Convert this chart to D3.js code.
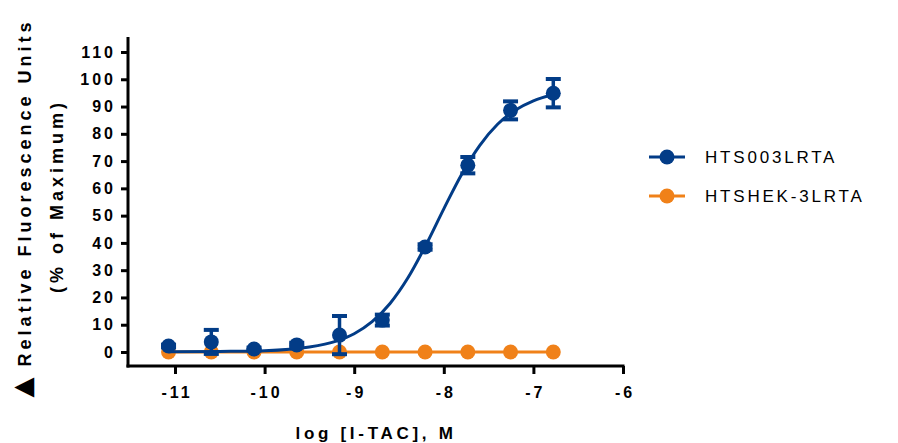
<!DOCTYPE html>
<html>
<head>
<meta charset="utf-8">
<script src="https://cdn.jsdelivr.net/npm/d3@7"></script>
<style>
  body { margin: 0; background: #fff; }
  text { font-family: "Liberation Sans", Arial, sans-serif; }
</style>
</head>
<body>
<svg id="chart" width="898" height="443"></svg>
<script>
// log[I-TAC] (M), 3-fold dilutions
var logConc = [-11.072, -10.595, -10.118, -9.641, -9.164, -8.686, -8.209, -7.732, -7.255, -6.778];
var hts003Mean = [2.2, 3.7, 1.1, 2.6, 6.2, 11.7, 38.5, 68.5, 88.6, 94.9];
var hts003Err  = [0.5, 4.4, 0.5, 0.8, 7.0, 2.0, 1.0, 3.0, 3.3, 5.2];
var hshekMean  = [0, 0, 0, 0, 0, 0, 0, 0, 0, 0];
// fitted curve for HTS003LRTA
var fitX = [-11.07, -10.5, -10.0, -9.5, -9.2, -9.0, -8.8, -8.6, -8.4, -8.2, -8.0, -7.8, -7.6, -7.4, -7.2, -7.0, -6.78];
var fitY = [0.05, 0.2, 0.45, 1.8, 4.0, 6.7, 11.1, 17.8, 27.2, 39.2, 52.5, 65.2, 75.7, 83.5, 88.7, 92.1, 94.3];
var xTicks = [-11, -10, -9, -8, -7, -6];
var yTicks = [0, 10, 20, 30, 40, 50, 60, 70, 80, 90, 100, 110];
var seriesNames = ["HTS003LRTA", "HTSHEK-3LRTA"];
var colors = ["#023c87", "#f08119"];

var svg = d3.select("#chart");
var x = d3.scaleLinear().domain([-11, -6]).range([175, 623]);
var y = d3.scaleLinear().domain([0, 110]).range([352, 52]);
var axisX = 128, axisY = 366;

// axes
var gy = svg.append("g").attr("transform", "translate(" + axisX + ",0)")
    .call(d3.axisLeft(y).tickValues(yTicks).tickSize(7).tickPadding(5));
var gx = svg.append("g").attr("transform", "translate(0," + axisY + ")")
    .call(d3.axisBottom(x).tickValues(xTicks).tickSize(8).tickPadding(13)
      .tickFormat(function (d) { return String(d); }));
[gy, gx].forEach(function (g) {
  g.select(".domain").remove();
  g.selectAll(".tick line").attr("stroke", "#000").attr("stroke-width", 3);
  g.selectAll(".tick text").attr("fill", "#000")
    .style("font-size", "16px").style("font-weight", "bold").style("letter-spacing", "3px");
});
gx.selectAll(".tick text").attr("dx", "1.5px");
svg.append("line").attr("x1", axisX).attr("x2", axisX).attr("y1", 37).attr("y2", axisY + 1.5)
  .attr("stroke", "#000").attr("stroke-width", 3);
svg.append("line").attr("x1", axisX - 1.5).attr("x2", x(-6) + 1.5).attr("y1", axisY).attr("y2", axisY)
  .attr("stroke", "#000").attr("stroke-width", 3);

// axis titles
svg.append("text").attr("x", 376).attr("y", 439).attr("text-anchor", "middle")
  .style("font-size", "17px").style("font-weight", "bold").style("letter-spacing", "3.7px")
  .text("log [I-TAC], M");
var t1 = svg.append("text").attr("transform", "translate(31,208) rotate(-90)").attr("text-anchor", "middle")
  .style("font-size", "18px").style("font-weight", "bold").style("letter-spacing", "4px");
t1.append("tspan").style("font-family", "DejaVu Sans").style("font-size", "26px").text("▲");
t1.append("tspan").attr("dx", "-2").text(" Relative Fluorescence Units");
svg.append("text").attr("transform", "translate(63,196) rotate(-90)").attr("text-anchor", "middle")
  .style("font-size", "18px").style("font-weight", "bold").style("letter-spacing", "4px")
  .text("(% of Maximum)");

// orange series (behind)
svg.append("path").datum(d3.zip(logConc, hshekMean))
  .attr("fill", "none").attr("stroke", colors[1]).attr("stroke-width", 3)
  .attr("d", d3.line().x(function (d) { return x(d[0]); }).y(function (d) { return y(d[1]); }));
svg.append("g").selectAll("circle").data(d3.zip(logConc, hshekMean)).join("circle")
  .attr("cx", function (d) { return x(d[0]); }).attr("cy", function (d) { return y(d[1]); })
  .attr("r", 7.5).attr("fill", colors[1]);

// blue fit curve
svg.append("path").datum(d3.zip(fitX, fitY))
  .attr("fill", "none").attr("stroke", colors[0]).attr("stroke-width", 3)
  .attr("d", d3.line().curve(d3.curveMonotoneX)
    .x(function (d) { return x(d[0]); }).y(function (d) { return y(d[1]); }));

// blue error bars + points
var pts = logConc.map(function (c, i) { return { c: c, m: hts003Mean[i], e: hts003Err[i] }; });
var eb = svg.append("g").attr("stroke", colors[0]);
pts.forEach(function (p) {
  var cx = x(p.c), y0 = y(p.m - p.e), y1 = y(p.m + p.e);
  eb.append("line").attr("x1", cx).attr("x2", cx).attr("y1", y0).attr("y2", y1).attr("stroke-width", 3.5);
  eb.append("line").attr("x1", cx - 7.5).attr("x2", cx + 7.5).attr("y1", y0).attr("y2", y0).attr("stroke-width", 4);
  eb.append("line").attr("x1", cx - 7.5).attr("x2", cx + 7.5).attr("y1", y1).attr("y2", y1).attr("stroke-width", 4);
});
svg.append("g").selectAll("circle").data(pts).join("circle")
  .attr("cx", function (d) { return x(d.c); }).attr("cy", function (d) { return y(d.m); })
  .attr("r", 7.5).attr("fill", colors[0]);

// legend
var lg = svg.append("g").selectAll("g").data(seriesNames).join("g")
  .attr("transform", function (d, i) { return "translate(649," + (157 + i * 39) + ")"; });
lg.append("line").attr("x1", 0).attr("x2", 36).attr("stroke", function (d, i) { return colors[i]; })
  .attr("stroke-width", 3);
lg.append("circle").attr("cx", 18).attr("r", 7.5).attr("fill", function (d, i) { return colors[i]; });
lg.append("text").attr("x", 56).attr("dy", "0.36em")
  .style("font-size", "17px").style("letter-spacing", "2.8px").text(function (d) { return d; });
</script>
</body>
</html>
